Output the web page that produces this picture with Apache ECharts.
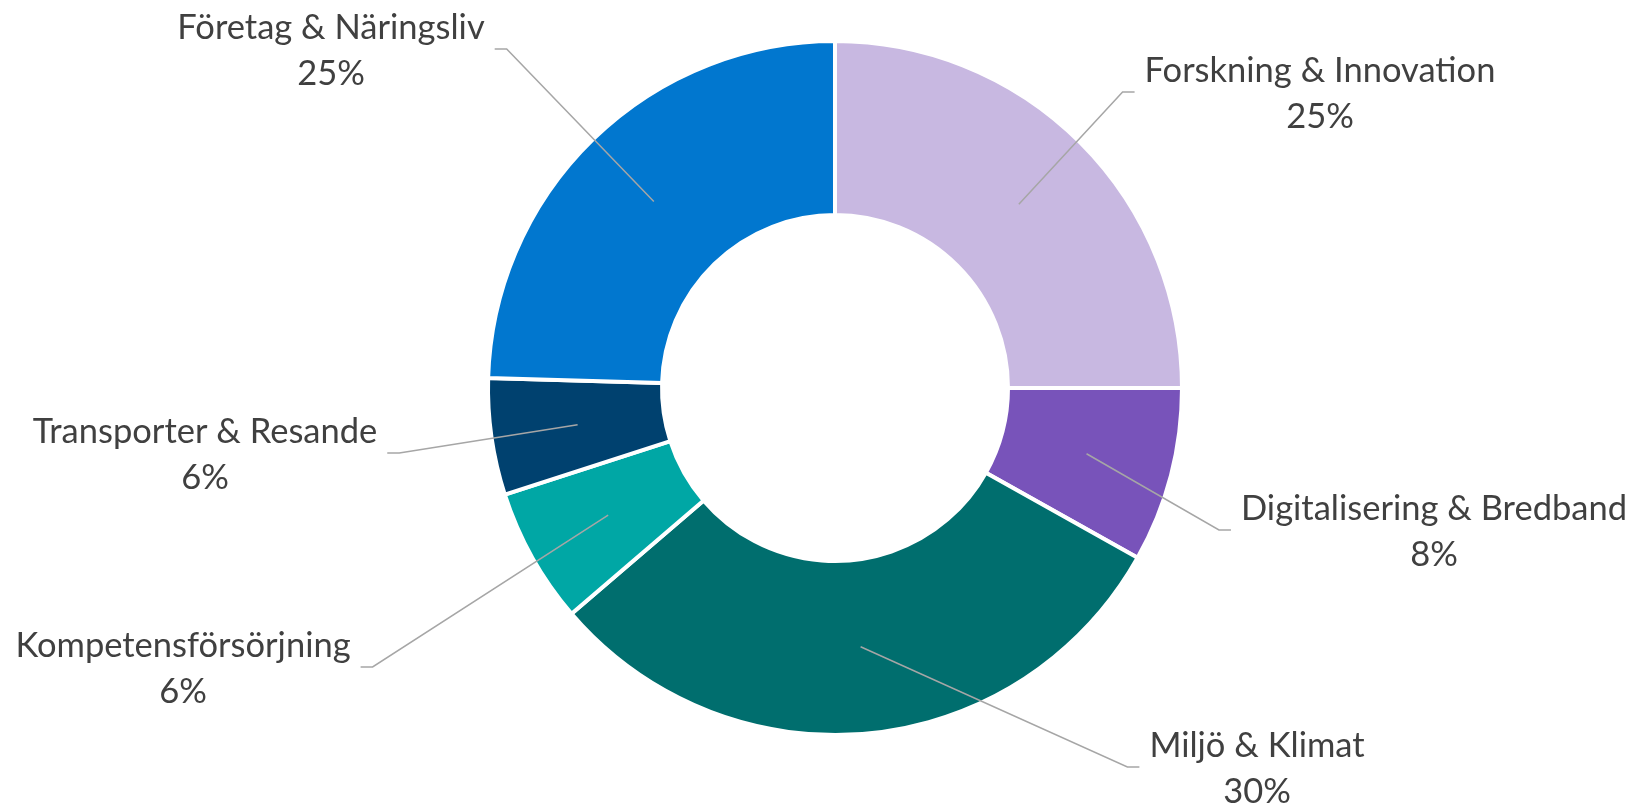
<!DOCTYPE html>
<html>
<head>
<meta charset="utf-8">
<script src="https://cdn.jsdelivr.net/npm/echarts@6/dist/echarts.min.js"></script>
<style>
  html, body { margin: 0; padding: 0; background: #ffffff; }
  #chart { width: 1632px; height: 806px; }
</style>
</head>
<body>
<div id="chart"></div>
<script>
// ---- data ----
const categories = [
  'Forskning & Innovation',
  'Digitalisering & Bredband',
  'Miljö & Klimat',
  'Kompetensförsörjning',
  'Transporter & Resande',
  'Företag & Näringsliv'
];
const shares = [25.0, 8.14, 30.58, 6.31, 5.43, 24.54];
// percentages printed in the data labels
const labelPercents = [25, 8, 30, 6, 6, 25];
const colors = ['#C8B8E1', '#7853BA', '#006E6E', '#00A7A5', '#00416F', '#0177CF'];

// ---- layout (positions / sizes) ----
const CX = 835, CY = 388;
const R_IN = 173, R_OUT = 347, R_MID = 260;
const labelCenters = [[1320, 94], [1434, 532], [1257, 769], [183, 669], [205, 455], [331, 51]];
const attachLeft = [true, true, true, false, false, false];
const GAP = 10, SEG = 12;

const chart = echarts.init(document.getElementById('chart'), null, { renderer: 'canvas' });

const pieData = function (transparent) {
  return categories.map(function (name, i) {
    return {
      name: name,
      value: shares[i],
      itemStyle: transparent ? { color: 'rgba(0,0,0,0)', borderWidth: 0 } : { color: colors[i] }
    };
  });
};

chart.setOption({
  backgroundColor: '#ffffff',
  animation: false,
  series: [{
    // the ring itself
    type: 'pie',
    z: 2,
    center: [CX, CY],
    radius: [R_IN, R_OUT],
    startAngle: 90,
    clockwise: true,
    silent: true,
    itemStyle: { borderColor: '#ffffff', borderWidth: 4 },
    emphasis: { disabled: true },
    label: { show: false },
    labelLine: { show: false },
    data: pieData(false)
  }, {
    // same slices, invisible, carrying labels and leader lines drawn on top
    type: 'pie',
    z: 5,
    center: [CX, CY],
    radius: [R_IN, R_OUT],
    startAngle: 90,
    clockwise: true,
    silent: true,
    avoidLabelOverlap: false,
    emphasis: { disabled: true },
    label: {
      show: true,
      position: 'outside',
      color: '#404040',
      fontFamily: 'Lato',
      fontSize: 34.5,
      lineHeight: 46,
      align: 'center',
      formatter: function (p) {
        return p.name + '\n' + labelPercents[p.dataIndex] + '%';
      }
    },
    labelLine: {
      show: true,
      smooth: false,
      lineStyle: { color: '#A6A6A6', width: 1.5 }
    },
    labelLayout: function (p) {
      const i = p.dataIndex;
      const lx = labelCenters[i][0], ly = labelCenters[i][1];
      const w = p.labelRect.width;
      const p0 = p.labelLinePoints[0];
      const dx = p0[0] - CX, dy = p0[1] - CY;
      const len = Math.sqrt(dx * dx + dy * dy) || 1;
      const sx = CX + dx / len * R_MID, sy = CY + dy / len * R_MID;
      const yl = ly - 2;
      let ex, kx;
      if (attachLeft[i]) { ex = lx - w / 2 - GAP; kx = ex - SEG; }
      else { ex = lx + w / 2 + GAP; kx = ex + SEG; }
      return {
        x: lx, y: ly, align: 'center', verticalAlign: 'middle',
        hideOverlap: false, moveOverlap: null,
        labelLinePoints: [[sx, sy], [kx, yl], [ex, yl]]
      };
    },
    data: pieData(true)
  }]
});
</script>
</body>
</html>
